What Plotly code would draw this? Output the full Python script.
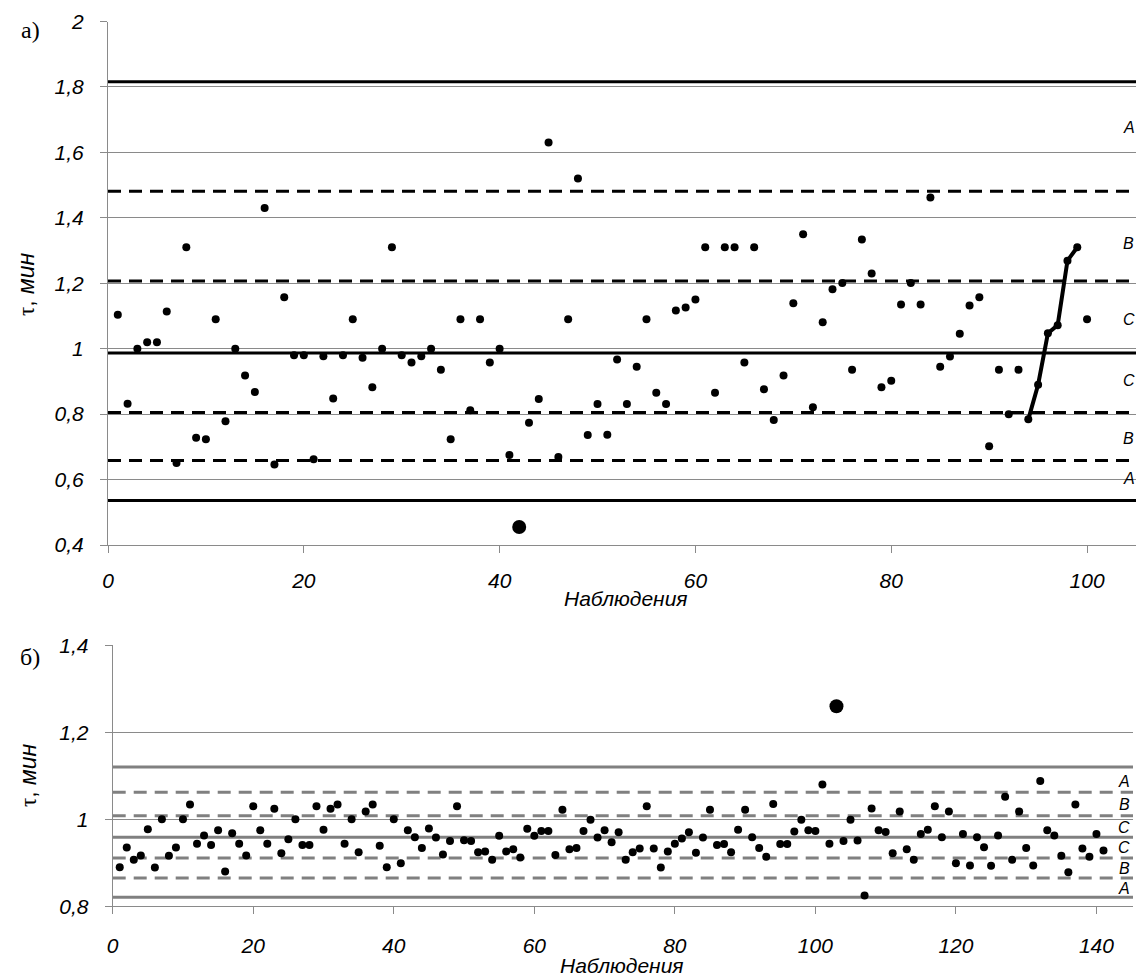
import plotly.graph_objects as go

# ---------------- data: chart (a) ----------------
top_x = list(range(1, 101))
top_y = [
    1.104, 0.832, 1.0, 1.02, 1.02, 1.114, 0.651, 1.31, 0.728, 0.723,
    1.09, 0.778, 1.0, 0.918, 0.868, 1.43, 0.646, 1.157, 0.98, 0.98,
    0.662, 0.977, 0.848, 0.98, 1.09, 0.972, 0.882, 1.0, 1.31, 0.98,
    0.958, 0.977, 1.0, 0.936, 0.723, 1.09, 0.812, 1.09, 0.958, 1.0,
    0.675, 0.455, 0.774, 0.846, 1.63, 0.669, 1.09, 1.52, 0.736, 0.831,
    0.737, 0.967, 0.831, 0.945, 1.09, 0.865, 0.831, 1.117, 1.126, 1.15,
    1.31, 0.865, 1.31, 1.31, 0.958, 1.31, 0.876, 0.782, 0.918, 1.139,
    1.35, 0.821, 1.081, 1.182, 1.201, 0.936, 1.334, 1.23, 0.882, 0.902,
    1.135, 1.201, 1.135, 1.462, 0.945, 0.976, 1.046, 1.132, 1.157, 0.702,
    0.936, 0.8, 0.936, 0.784, 0.89, 1.047, 1.072, 1.269, 1.31, 1.09,
]
top_center = 0.987
top_solid_limits = [0.536, 1.816]
top_dashed_limits = [0.658, 0.805, 1.207, 1.481]
top_zone_labels = ["A", "B", "C", "C", "B", "A"]
top_zone_label_y = [1.677, 1.322, 1.089, 0.902, 0.727, 0.602]
top_trend = [94, 99]  # run of points joined by a line
top_xrange = [0, 105]
top_yticks = [0.4, 0.6, 0.8, 1.0, 1.2, 1.4, 1.6, 1.8, 2.0]
top_yticktext = ["0,4", "0,6", "0,8", "1", "1,2", "1,4", "1,6", "1,8", "2"]
top_xticks = [0, 20, 40, 60, 80, 100]

# ---------------- data: chart (б) ----------------
bot_x = list(range(1, 142))
bot_y = [
    0.890, 0.935, 0.907, 0.917, 0.977, 0.889, 1.0, 0.916, 0.935, 1.0,
    1.034, 0.944, 0.963, 0.941, 0.975, 0.880, 0.968, 0.944, 0.917, 1.030,
    0.975, 0.944, 1.024, 0.922, 0.954, 1.0, 0.941, 0.941, 1.030, 0.976,
    1.024, 1.034, 0.944, 1.0, 0.924, 1.018, 1.034, 0.939, 0.890, 1.0,
    0.899, 0.975, 0.959, 0.934, 0.979, 0.958, 0.919, 0.950, 1.030, 0.952,
    0.950, 0.924, 0.926, 0.907, 0.962, 0.926, 0.931, 0.912, 0.978, 0.962,
    0.973, 0.973, 0.918, 1.022, 0.931, 0.934, 0.973, 0.999, 0.958, 0.975,
    0.947, 0.970, 0.907, 0.924, 0.933, 1.030, 0.933, 0.889, 0.926, 0.944,
    0.956, 0.970, 0.923, 0.958, 1.022, 0.941, 0.943, 0.924, 0.976, 1.022,
    0.959, 0.934, 0.914, 1.035, 0.943, 0.943, 0.972, 0.999, 0.975, 0.973,
    1.080, 0.944, 1.260, 0.950, 0.999, 0.951, 0.825, 1.025, 0.975, 0.971,
    0.922, 1.018, 0.931, 0.907, 0.966, 0.976, 1.030, 0.959, 1.018, 0.899,
    0.966, 0.894, 0.959, 0.936, 0.893, 0.963, 1.052, 0.907, 1.018, 0.934,
    0.894, 1.088, 0.975, 0.963, 0.916, 0.878, 1.034, 0.933, 0.914, 0.966, 0.928,
]
bot_center = 0.959
bot_solid_limits = [0.821, 1.120]
bot_dashed_limits = [0.865, 0.911, 1.008, 1.062]
bot_zone_labels = ["A", "B", "C", "C", "B", "A"]
bot_zone_label_y = [1.087, 1.034, 0.981, 0.935, 0.886, 0.842]
bot_xrange = [0, 145.2]
bot_yticks = [0.8, 1.0, 1.2, 1.4]
bot_yticktext = ["0,8", "1", "1,2", "1,4"]
bot_xticks = [0, 20, 40, 60, 80, 100, 120, 140]

x_title = "Наблюдения"
y_title = "<span style='font-family:Liberation Serif;font-style:normal'>τ</span>, <i>мин</i>"
panel_labels = ["а)", "б)"]

# ---------------- figure ----------------
W, H = 1144, 976
SANS = "Liberation Sans"
SERIF = "Liberation Serif"
GRID = "#8a8a8a"

def px_x(p):
    return p / W

def px_y(p):
    return 1 - p / H

fig = go.Figure()

def hline(v, xr, color, dash, xa, ya):
    fig.add_trace(go.Scatter(x=xr, y=[v, v], mode="lines",
                             line=dict(color=color, width=3, dash=dash),
                             xaxis=xa, yaxis=ya, showlegend=False, hoverinfo="skip"))

# control lines (a)
for v in top_solid_limits + [top_center]:
    hline(v, top_xrange, "black", "solid", "x", "y")
for v in top_dashed_limits:
    hline(v, top_xrange, "black", "13px,8px", "x", "y")
# control lines (б)
for v in bot_solid_limits + [bot_center]:
    hline(v, bot_xrange, "#808080", "solid", "x2", "y2")
for v in bot_dashed_limits:
    hline(v, bot_xrange, "#808080", "13px,8px", "x2", "y2")

# chart (a) points
top_lcl, top_ucl = top_solid_limits
top_sizes = [14 if (v < top_lcl or v > top_ucl) else 8 for v in top_y]
i0, i1 = top_x.index(top_trend[0]), top_x.index(top_trend[1])
fig.add_trace(go.Scatter(x=top_x[i0:i1 + 1], y=top_y[i0:i1 + 1], mode="lines",
                         line=dict(color="black", width=4), xaxis="x", yaxis="y",
                         showlegend=False, hoverinfo="skip"))
fig.add_trace(go.Scatter(x=top_x, y=top_y, mode="markers",
                         marker=dict(color="black", size=top_sizes, opacity=1,
                                     line=dict(width=0)),
                         xaxis="x", yaxis="y", showlegend=False))

# chart (б) points
bot_lcl, bot_ucl = bot_solid_limits
bot_sizes = [14 if (v < bot_lcl or v > bot_ucl) else 8 for v in bot_y]
fig.add_trace(go.Scatter(x=bot_x, y=bot_y, mode="markers",
                         marker=dict(color="black", size=bot_sizes, opacity=1,
                                     line=dict(width=0)),
                         xaxis="x2", yaxis="y2", showlegend=False))

tickfont = dict(family=SANS, size=21, color="black", style="italic")
annotations = []
for t, yv in zip(top_zone_labels, top_zone_label_y):
    annotations.append(dict(text=t, xref="x domain", yref="y", x=0.993, y=yv,
                            showarrow=False, xanchor="center", yanchor="middle",
                            font=dict(family=SANS, size=16, color="black", style="italic")))
for t, yv in zip(bot_zone_labels, bot_zone_label_y):
    annotations.append(dict(text=t, xref="x2 domain", yref="y2", x=0.9915, y=yv,
                            showarrow=False, xanchor="center", yanchor="middle",
                            font=dict(family=SANS, size=16, color="black", style="italic")))
# axis titles
annotations += [
    dict(text=x_title, xref="paper", yref="paper", x=px_x(618), y=px_y(590),
         showarrow=False, xanchor="center", yanchor="middle",
         font=dict(family=SANS, size=21, color="black", style="italic")),
    dict(text=x_title, xref="paper", yref="paper", x=px_x(614), y=px_y(957),
         showarrow=False, xanchor="center", yanchor="middle",
         font=dict(family=SANS, size=21, color="black", style="italic")),
    dict(text=y_title, xref="paper", yref="paper", x=px_x(18), y=px_y(276),
         showarrow=False, xanchor="center", yanchor="middle", textangle=-90,
         font=dict(family=SANS, size=23, color="black")),
    dict(text=y_title, xref="paper", yref="paper", x=px_x(20), y=px_y(767),
         showarrow=False, xanchor="center", yanchor="middle", textangle=-90,
         font=dict(family=SANS, size=23, color="black")),
    dict(text=panel_labels[0], xref="paper", yref="paper", x=px_x(22), y=px_y(22),
         showarrow=False, xanchor="center", yanchor="middle",
         font=dict(family=SERIF, size=24, color="black")),
    dict(text=panel_labels[1], xref="paper", yref="paper", x=px_x(22), y=px_y(649),
         showarrow=False, xanchor="center", yanchor="middle",
         font=dict(family=SERIF, size=24, color="black")),
]

axis_common = dict(showgrid=True, gridcolor=GRID, gridwidth=1, showline=True,
                   linecolor=GRID, linewidth=1, ticks="outside", ticklen=7,
                   tickcolor=GRID, tickfont=tickfont, zeroline=False, automargin=False)

fig.update_layout(
    width=W, height=H,
    margin=dict(l=0, r=0, t=0, b=0),
    paper_bgcolor="white", plot_bgcolor="white",
    showlegend=False,
    separators=", ",
    xaxis=dict(axis_common, domain=[px_x(100), px_x(1128)], range=top_xrange,
               tickvals=top_xticks, showgrid=False, anchor="y", ticklabelstandoff=10),
    yaxis=dict(axis_common, domain=[px_y(537), px_y(13.5)], range=[0.4, 2.0],
               tickvals=top_yticks, ticktext=top_yticktext, anchor="x", ticklabelstandoff=12),
    xaxis2=dict(axis_common, domain=[px_x(104.7), px_x(1125)], range=bot_xrange,
                tickvals=bot_xticks, showgrid=False, anchor="y2", ticklabelstandoff=13),
    yaxis2=dict(axis_common, domain=[px_y(898.3), px_y(637.3)], range=[0.8, 1.4],
                tickvals=bot_yticks, ticktext=bot_yticktext, anchor="x2", ticklabelstandoff=12),
    annotations=annotations,
)

fig.write_html("out.html")
